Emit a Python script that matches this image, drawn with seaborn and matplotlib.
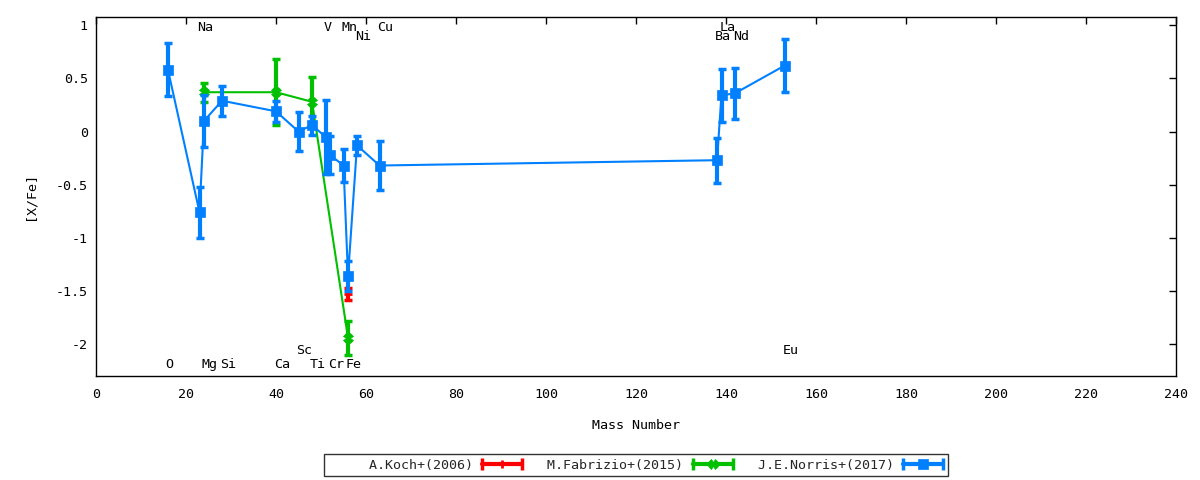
import matplotlib
matplotlib.use("Agg")
import matplotlib.pyplot as plt
from matplotlib.legend_handler import HandlerBase
from matplotlib.lines import Line2D
import seaborn as sns

# J.E.Norris+(2017)
norris_elem = ["O", "Na", "Mg", "Si", "Ca", "Sc", "Ti", "V", "Cr", "Mn", "Fe", "Ni", "Cu",
               "Ba", "La", "Nd", "Eu"]
norris_mass = [16, 23, 24, 28, 40, 45, 48, 51, 52, 55, 56, 58, 63, 138, 139, 142, 153]
norris_xfe = [0.58, -0.76, 0.10, 0.29, 0.19, 0.00, 0.06, -0.05, -0.22, -0.32, -1.36, -0.13,
              -0.32, -0.27, 0.34, 0.36, 0.62]
norris_err = [0.25, 0.24, 0.245, 0.14, 0.10, 0.18, 0.09, 0.35, 0.18, 0.155, 0.14, 0.09,
              0.23, 0.21, 0.25, 0.24, 0.25]

# M.Fabrizio+(2015)
fabrizio_mass = [24, 40, 48, 56]
fabrizio_xfe = [0.37, 0.37, 0.28, -1.94]
fabrizio_err = [0.09, 0.31, 0.23, 0.16]

# A.Koch+(2006)
koch_mass = [56]
koch_xfe = [-1.53]
koch_err = [0.055]

# element name labels
label_elem = ["Na", "V", "Mn", "Cu", "La", "Ni", "Ba", "Nd",
              "O", "Mg", "Si", "Ca", "Ti", "Cr", "Fe", "Sc", "Eu"]
label_mass = [23, 51, 55, 63, 139, 58, 138, 142,
              16, 24, 28, 40, 48, 52, 56, 45, 153]
label_y = [0.98, 0.98, 0.98, 0.98, 0.98, 0.89, 0.89, 0.89,
           -2.19, -2.19, -2.19, -2.19, -2.19, -2.19, -2.19, -2.06, -2.06]

RED = "#ff0000"
GREEN = "#00c000"
BLUE = "#0080ff"
FS = 9.6

sns.set_theme(style="white")
plt.rcParams["font.family"] = ["DejaVu Sans Mono"]
plt.rcParams["axes.unicode_minus"] = False


class ErrLineHandler(HandlerBase):
    """gnuplot style key sample: line, end caps and centre point."""

    def create_artists(self, legend, orig_handle, xdescent, ydescent, width, height,
                       fontsize, trans):
        c = orig_handle.get_color()
        y = height / 2 - ydescent
        x0, x1 = -xdescent, -xdescent + width
        line = Line2D([x0, x1], [y, y], color=c, lw=3)
        caps = Line2D([x0, x1], [y, y], ls="none", marker="|", ms=9, mew=2.5, color=c)
        pt = Line2D([(x0 + x1) / 2], [y], ls="none", marker=orig_handle.get_marker(),
                    ms=orig_handle.get_markersize(), mew=orig_handle.get_markeredgewidth(),
                    color=c, mec=c)
        for a in (line, caps, pt):
            a.set_transform(trans)
        return [line, caps, pt]


fig, ax = plt.subplots(figsize=(12, 4.8), dpi=100)
fig.subplots_adjust(left=0.08, right=0.98, top=0.965, bottom=0.217)

series = [
    (koch_mass, koch_xfe, koch_err, RED, "+", 6, 2, 2),
    (fabrizio_mass, fabrizio_xfe, fabrizio_err, GREEN, "X", 7, 0.5, 3),
    (norris_mass, norris_xfe, norris_err, BLUE, "s", 7, 0.5, 4),
]
for mass, xfe, err, color, marker, ms, mew, z in series:
    ax.errorbar(mass, xfe, yerr=err, fmt="none", ecolor=color, elinewidth=3,
                capsize=3, capthick=2.5, zorder=z)
    sns.lineplot(x=mass, y=xfe, color=color, marker=marker, markersize=ms,
                 markeredgecolor=color, markeredgewidth=mew, lw=1.5, sort=True,
                 legend=False, ax=ax, zorder=z)

for name, m, y in zip(label_elem, label_mass, label_y):
    ax.text(m - 0.5, y, name, ha="left", va="center", fontsize=FS, color="black")

ax.set_xlim(0, 240)
ax.set_ylim(-2.3, 1.08)
ax.set_xticks(range(0, 241, 20))
ax.set_yticks([-2, -1.5, -1, -0.5, 0, 0.5, 1])
ax.set_yticklabels(["-2", "-1.5", "-1", "-0.5", "0", "0.5", "1"])
ax.tick_params(direction="in", length=5, width=1, top=True, right=True,
               labelsize=FS, colors="black")
ax.tick_params(axis="x", pad=9)
ax.tick_params(axis="y", pad=6)
for s in ax.spines.values():
    s.set_color("black")
    s.set_linewidth(1)
ax.set_xlabel("Mass Number", fontsize=FS, labelpad=13, color="black")
ax.set_ylabel("[X/Fe]", fontsize=FS, labelpad=14, color="black")
ax.grid(False)

proxies = [
    Line2D([], [], color=RED, marker="+", ms=6, mew=2),
    Line2D([], [], color=GREEN, marker="X", ms=7, mew=0.5),
    Line2D([], [], color=BLUE, marker="s", ms=7, mew=0.5),
]
labels = [" " + "A.Koch+(2006)".rjust(17), " " + "M.Fabrizio+(2015)",
          " " + "J.E.Norris+(2017)"]
handler = ErrLineHandler()
leg = fig.legend(proxies, labels, handler_map={p: handler for p in proxies},
                 loc="center", bbox_to_anchor=(0.53, 0.031), ncol=3, markerfirst=False,
                 fontsize=FS, frameon=True, fancybox=False, edgecolor="black",
                 borderpad=0.35, handlelength=3.0, handletextpad=0.7,
                 columnspacing=1.3)
leg.get_frame().set_linewidth(1)

fig.savefig("out.png", dpi=100)
